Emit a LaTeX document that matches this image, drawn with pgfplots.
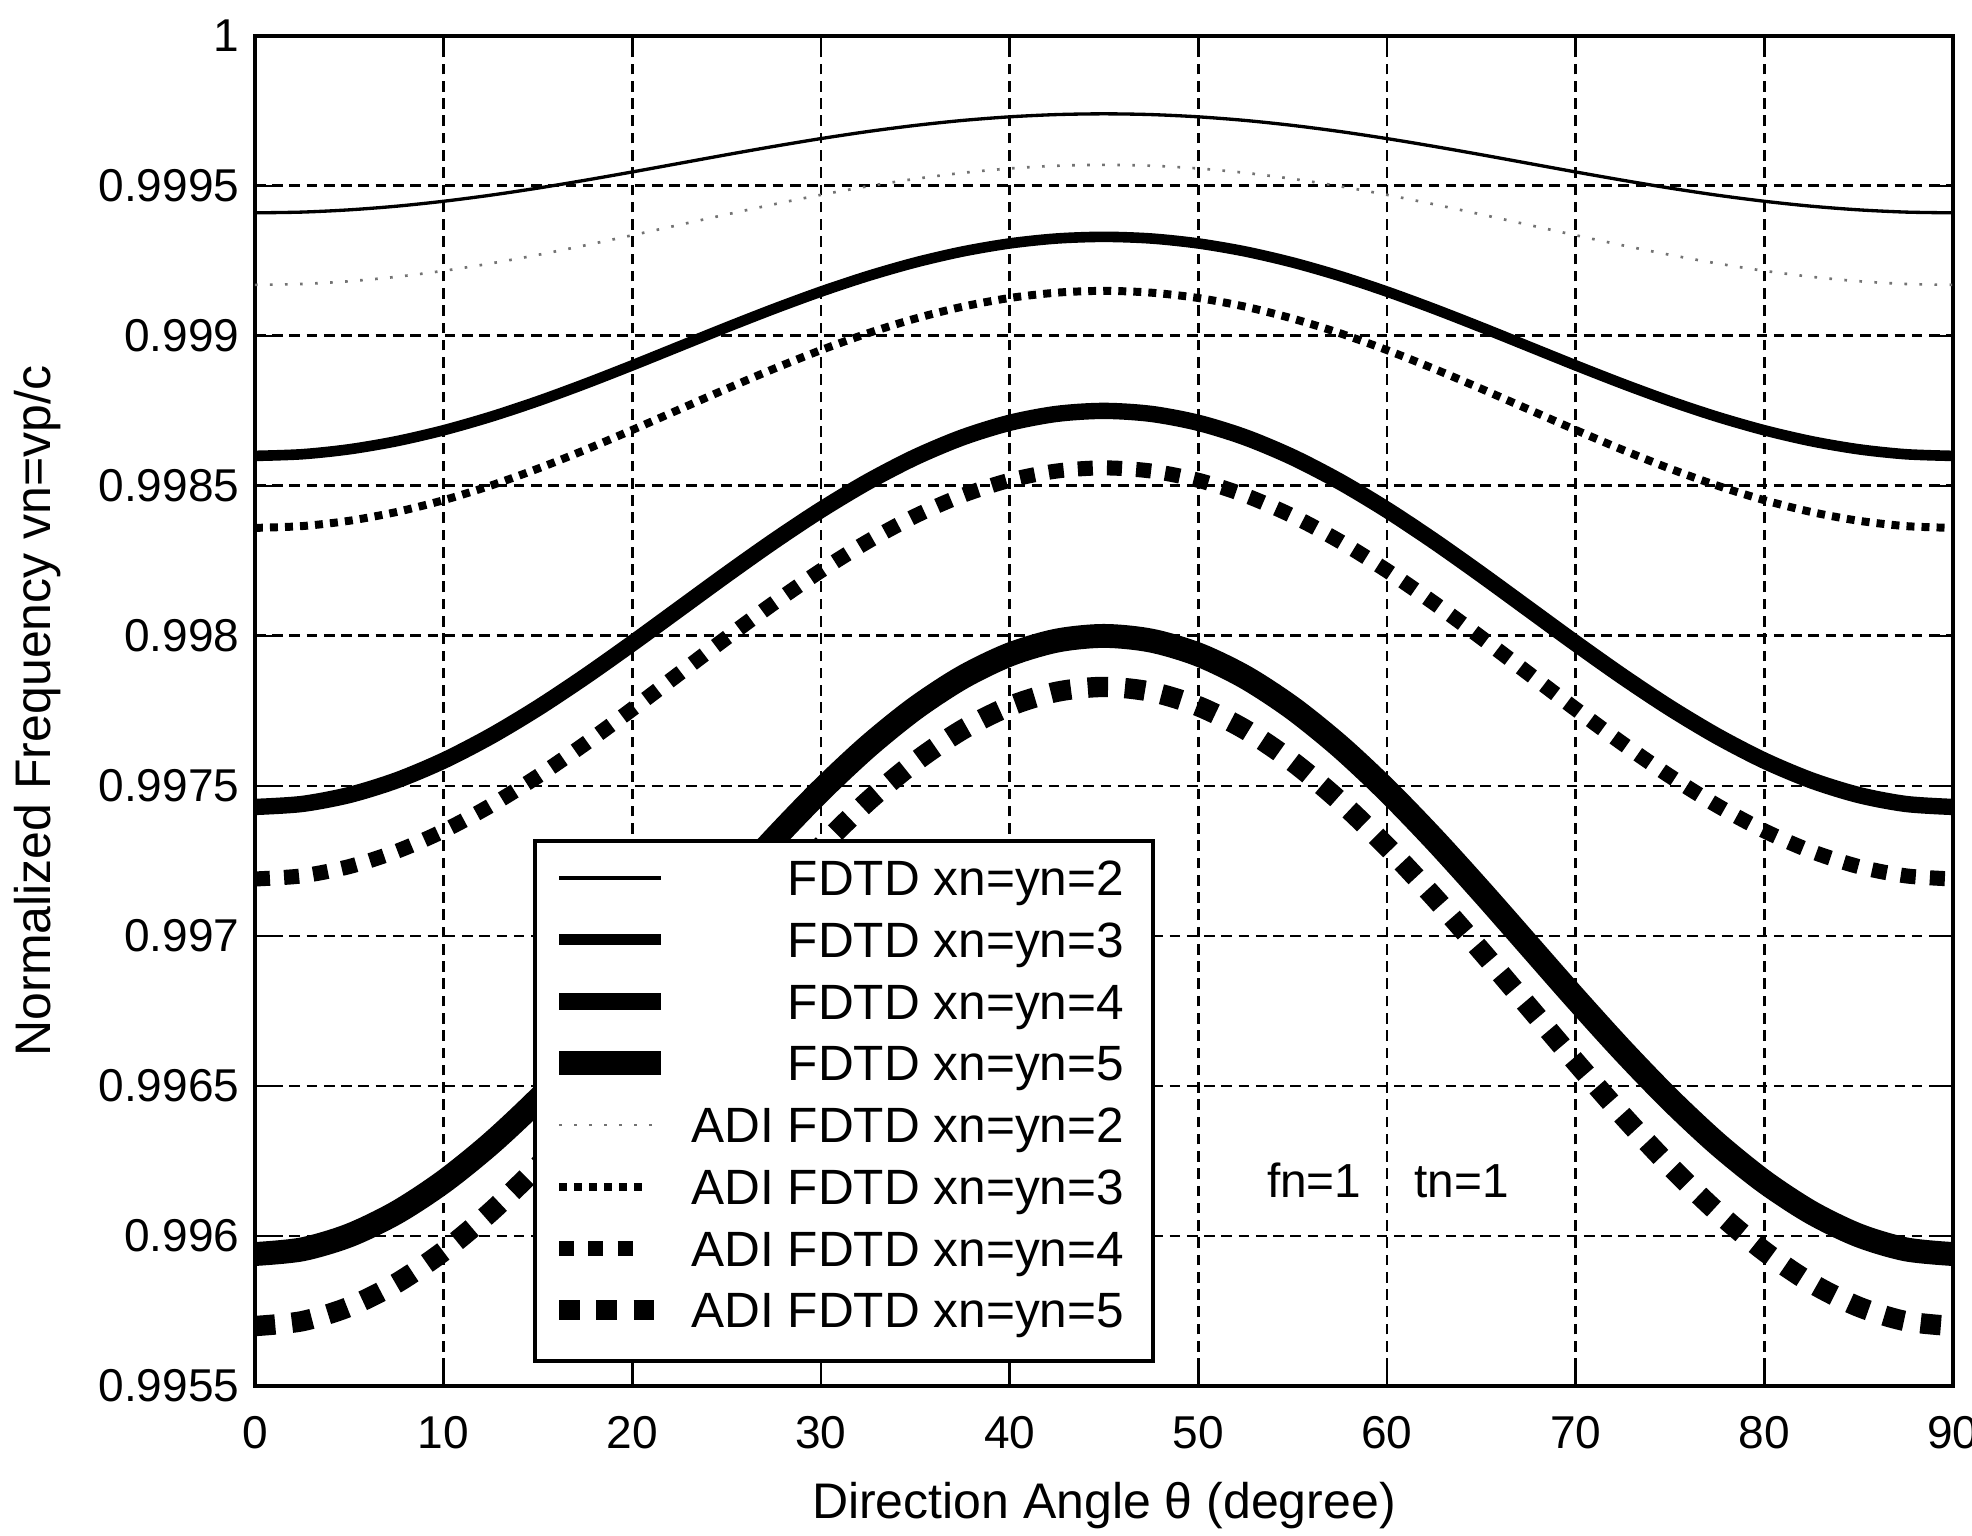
\documentclass[border=0pt]{standalone}
\usepackage{fontspec}
\setmainfont{Liberation Sans}
\usepackage{pgfplots}
\usepackage{pgfplotstable}
\pgfplotsset{compat=1.18}
\pgfplotsset{
  legimg/.style={legend image code/.code={\path[draw=none] (0pt,0pt) -- (34pt,0pt); \draw[##1] (5.5pt,1.6pt) -- (#1,1.6pt);}}
}
\pgfplotstableread{
theta f2 f3 f4 f5 a2 a3 a4 a5
0    0.999410  0.998600  0.997430  0.995940  0.999170  0.998360  0.997190  0.995700
2.5  0.9994125 0.9986055 0.997440  0.9959556 0.999173  0.998366  0.9972004 0.9957162
5    0.999420  0.998622  0.9974698 0.9960021 0.9991821 0.9983838 0.9972313 0.9957642
7.5  0.9994321 0.9986489 0.9975184 0.996078  0.9991968 0.9984129 0.9972818 0.9958427
10   0.9994486 0.9986854 0.9975844 0.996181  0.9992168 0.9984524 0.9973503 0.9959492
12.5 0.9994689 0.9987304 0.9976658 0.9963079 0.9992414 0.9985011 0.9974347 0.9960804
15   0.9994925 0.9987825 0.99776   0.996455  0.99927   0.9985575 0.9975325 0.9962325
17.5 0.9995186 0.9988402 0.9978643 0.9966177 0.9993016 0.9986199 0.9976407 0.9964007
20   0.9995463 0.9989016 0.9979754 0.9967911 0.9993353 0.9986864 0.997756  0.9965801
22.5 0.999575  0.998965  0.99809   0.99697   0.99937   0.998755  0.997875  0.996765
25   0.9996037 0.9990284 0.9982046 0.9971489 0.9994047 0.9988236 0.997994  0.9969499
27.5 0.9996314 0.9990898 0.9983157 0.9973223 0.9994384 0.9988901 0.9981093 0.9971293
30   0.9996575 0.9991475 0.99842   0.997485  0.99947   0.9989525 0.9982175 0.9972975
32.5 0.9996811 0.9991996 0.9985142 0.9976321 0.9994986 0.9990089 0.9983153 0.9974496
35   0.9997014 0.9992446 0.9985956 0.997759  0.9995232 0.9990576 0.9983997 0.9975808
37.5 0.9997179 0.9992811 0.9986616 0.997862  0.9995432 0.9990971 0.9984682 0.9976873
40   0.99973   0.999308  0.9987102 0.9979379 0.9995579 0.9991262 0.9985187 0.9977658
42.5 0.9997375 0.9993245 0.99874   0.9979844 0.999567  0.999144  0.9985496 0.9978138
45   0.99974   0.99933   0.99875   0.998     0.99957   0.99915   0.99856   0.99783
47.5 0.9997375 0.9993245 0.99874   0.9979844 0.999567  0.999144  0.9985496 0.9978138
50   0.99973   0.999308  0.9987102 0.9979379 0.9995579 0.9991262 0.9985187 0.9977658
52.5 0.9997179 0.9992811 0.9986616 0.997862  0.9995432 0.9990971 0.9984682 0.9976873
55   0.9997014 0.9992446 0.9985956 0.997759  0.9995232 0.9990576 0.9983997 0.9975808
57.5 0.9996811 0.9991996 0.9985142 0.9976321 0.9994986 0.9990089 0.9983153 0.9974496
60   0.9996575 0.9991475 0.99842   0.997485  0.99947   0.9989525 0.9982175 0.9972975
62.5 0.9996314 0.9990898 0.9983157 0.9973223 0.9994384 0.9988901 0.9981093 0.9971293
65   0.9996037 0.9990284 0.9982046 0.9971489 0.9994047 0.9988236 0.997994  0.9969499
67.5 0.999575  0.998965  0.99809   0.99697   0.99937   0.998755  0.997875  0.996765
70   0.9995463 0.9989016 0.9979754 0.9967911 0.9993353 0.9986864 0.997756  0.9965801
72.5 0.9995186 0.9988402 0.9978643 0.9966177 0.9993016 0.9986199 0.9976407 0.9964007
75   0.9994925 0.9987825 0.99776   0.996455  0.99927   0.9985575 0.9975325 0.9962325
77.5 0.9994689 0.9987304 0.9976658 0.9963079 0.9992414 0.9985011 0.9974347 0.9960804
80   0.9994486 0.9986854 0.9975844 0.996181  0.9992168 0.9984524 0.9973503 0.9959492
82.5 0.9994321 0.9986489 0.9975184 0.996078  0.9991968 0.9984129 0.9972818 0.9958427
85   0.999420  0.998622  0.9974698 0.9960021 0.9991821 0.9983838 0.9972313 0.9957642
87.5 0.9994125 0.9986055 0.997440  0.9959556 0.999173  0.998366  0.9972004 0.9957162
90   0.999410  0.998600  0.997430  0.995940  0.999170  0.998360  0.997190  0.995700
}\data

\begin{document}
\begin{tikzpicture}
\begin{axis}[
  name=ax, at={(0,0)}, anchor=south west,
  scale only axis, width=383.7pt, height=305.1pt,
  xmin=0, xmax=90, ymin=0.9955, ymax=1,
  xtick={0,10,20,30,40,50,60,70,80,90},
  xticklabels={0,10,20,30,40,50,60,70,80,90},
  ytick={0.9955,0.996,0.9965,0.997,0.9975,0.998,0.9985,0.999,0.9995,1},
  yticklabels={0.9955,0.996,0.9965,0.997,0.9975,0.998,0.9985,0.999,0.9995,1},
  scaled y ticks=false, scaled x ticks=false,
  /pgf/number format/assume math mode=true,
  tick label style={font=\fontsize{10.4pt}{12pt}\selectfont, black},
  xticklabel style={yshift=-3.4pt},
  tick align=inside, major tick length=4.1pt,
  every tick/.style={black, line width=0.6pt},
  axis line style={black, line width=0.9pt},
  grid=major,
  major grid style={black, line width=0.65pt, dash pattern=on 2.4pt off 1.5pt},
  xlabel={Direction Angle θ (degree)},
  ylabel={Normalized Frequency vn=vp/c},
  label style={font=\fontsize{11.3pt}{13pt}\selectfont},
  xlabel style={at={(axis description cs:0.5,-0.0882)}, anchor=center},
  ylabel style={at={(axis description cs:-0.1277,0.5)}, anchor=center},
  legend cell align=right,
  legimg=28.5pt,
  legend style={at={(axis description cs:0.1637,0.017)}, anchor=south west,
    draw=black, line width=0.9pt, fill=white,
    inner xsep=0pt, inner ysep=3pt, row sep=0pt, column sep=1.4pt,
    font=\fontsize{11.2pt}{13pt}\selectfont,
    nodes={inner sep=0pt, text height=9.4pt, text depth=4.54pt}},
]
\addplot[black, line width=0.75pt, smooth] table[x=theta, y=f2] {\data};
\addlegendentry{FDTD xn=yn=2\kern6.5pt}
\addplot[black, line width=2.4pt, smooth] table[x=theta, y=f3] {\data};
\addlegendentry{FDTD xn=yn=3\kern6.5pt}
\addplot[black, line width=3.7pt, smooth] table[x=theta, y=f4] {\data};
\addlegendentry{FDTD xn=yn=4\kern6.5pt}
\addplot[black, line width=5.4pt, smooth] table[x=theta, y=f5] {\data};
\addlegendentry{FDTD xn=yn=5\kern6.5pt}
\addplot[black!55, line width=0.6pt, dash pattern=on 0.6pt off 2.8pt, smooth] table[x=theta, y=a2] {\data};
\addlegendentry{ADI FDTD xn=yn=2\kern6.5pt}
\addplot[black, line width=1.8pt, dash pattern=on 1.8pt off 1.6pt, smooth, legimg=24.3pt] table[x=theta, y=a3] {\data};
\addlegendentry{ADI FDTD xn=yn=3\kern6.5pt}
\addplot[black, line width=3.4pt, dash pattern=on 3.4pt off 3.2pt, smooth, legimg=22.1pt] table[x=theta, y=a4] {\data};
\addlegendentry{ADI FDTD xn=yn=4\kern6.5pt}
\addplot[black, line width=4.6pt, dash pattern=on 4.6pt off 3.8pt, smooth, legimg=26.9pt] table[x=theta, y=a5] {\data};
\addlegendentry{ADI FDTD xn=yn=5\kern6.5pt}
\node[anchor=base west, inner sep=0pt, font=\fontsize{10.8pt}{13pt}\selectfont] at (axis cs:53.6,0.99613) {fn=1};
\node[anchor=base west, inner sep=0pt, font=\fontsize{10.8pt}{13pt}\selectfont] at (axis cs:61.4,0.99613) {tn=1};
\end{axis}
\pgfresetboundingbox
\path[use as bounding box] ([shift={(-57.6pt,-33.7pt)}]ax.south west) rectangle ([shift={(4.3pt,8.1pt)}]ax.north east);
\end{tikzpicture}
\end{document}
